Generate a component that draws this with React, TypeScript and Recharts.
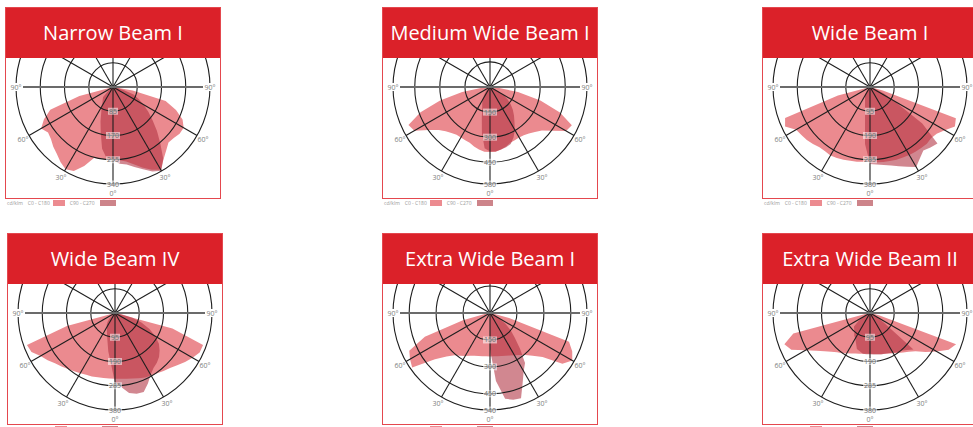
import React from "react";
import { PolarAngleAxis, PolarGrid, PolarRadiusAxis, Radar, RadarChart } from "recharts";

// gamma angle from nadir, negative = left half (C180 / C270 side)
const GAMMA = [
  -90, -85, -80, -75, -70, -65, -60, -55, -50, -45, -40, -35, -30, -25, -20, -15, -10, -5,
  0, 5, 10, 15, 20, 25, 30, 35, 40, 45, 50, 55, 60, 65, 70, 75, 80, 85, 90,
];

const ANGLE_TICKS = [0, 30, 60, 90, 120, 150, 180, 210, 240, 270, 300, 330];

// cd/klm values, left horizontal -> nadir -> right horizontal
const narrowC0 = [
  0, 0, 0, 122, 234, 267, 291, 278, 284, 296, 306, 321, 333, 325, 295, 258, 255, 255,
  255, 258, 265, 280, 300, 320, 335, 309, 290, 275, 278, 285, 286, 269, 235, 191, 70, 0, 0,
];
const narrowC90 = [
  0, 0, 0, 0, 0, 0, 0, 0, 23, 49, 56, 64, 81, 97, 128, 166, 220, 252,
  257, 270, 276, 290, 307, 327, 339, 307, 258, 218, 181, 151, 124, 99, 77, 36, 10, 0, 0,
];

const mediumC0 = [
  0, 40, 169, 309, 442, 538, 522, 448, 399, 375, 359, 349, 349, 351, 355, 369, 380, 389,
  389, 389, 380, 369, 355, 351, 349, 352, 362, 380, 405, 455, 525, 540, 445, 312, 170, 40, 0,
];
const mediumC90 = [
  0, 0, 0, 0, 0, 0, 0, 0, 0, 30, 46, 64, 90, 110, 136, 189, 279, 367,
  385, 387, 380, 373, 362, 333, 297, 255, 223, 193, 161, 128, 90, 30, 0, 0, 0, 0, 0,
];

const wideC0 = [
  0, 0, 0, 130, 354, 367, 334, 328, 323, 316, 308, 307, 310, 307, 303, 299, 297, 294,
  294, 296, 298, 300, 303, 305, 308, 310, 312, 315, 312, 319, 338, 367, 358, 52, 0, 0, 0,
];
const wideC90 = [
  0, 0, 0, 0, 0, 0, 0, 0, 0, 0, 20, 30, 39, 46, 57, 75, 112, 224,
  302, 305, 310, 318, 330, 345, 362, 341, 325, 335, 345, 250, 110, 60, 25, 0, 0, 0, 0,
];

const wide4C0 = [
  0, 0, 0, 195, 367, 361, 337, 322, 307, 296, 287, 279, 272, 267, 265, 261, 259, 258,
  258, 259, 262, 266, 272, 279, 283, 288, 296, 305, 318, 335, 351, 366, 367, 233, 0, 0, 0,
];
const wide4C90 = [
  0, 0, 0, 0, 0, 0, 0, 0, 13, 32, 45, 57, 65, 75, 91, 114, 152, 195,
  272, 292, 318, 328, 329, 305, 279, 263, 255, 244, 228, 210, 182, 149, 110, 71, 26, 0, 0,
];

const extraC0 = [
  0, 0, 20, 156, 386, 496, 514, 529, 400, 342, 307, 290, 276, 263, 254, 248, 244, 242,
  242, 242, 244, 248, 254, 261, 272, 285, 305, 336, 382, 492, 529, 505, 468, 110, 10, 0, 0,
];
const extraC90 = [
  0, 0, 0, 0, 0, 0, 0, 0, 0, 0, 0, 0, 0, 0, 0, 0, 0, 0,
  200, 380, 485, 500, 505, 430, 375, 340, 260, 195, 150, 105, 60, 25, 0, 0, 0, 0, 0,
];

const extra2C0 = [
  0, 0, 15, 311, 357, 340, 292, 257, 233, 214, 201, 192, 182, 175, 169, 165, 162, 160,
  160, 161, 163, 166, 170, 175, 182, 191, 202, 214, 233, 266, 301, 340, 359, 39, 10, 0, 0,
];
const extra2C90 = [
  0, 0, 0, 0, 0, 0, 35, 55, 82, 88, 95, 108, 115, 130, 150, 155, 162, 162,
  162, 163, 165, 168, 170, 174, 180, 188, 193, 205, 222, 71, 32, 0, 0, 0, 0, 0, 0,
];

const TITLES = [
  "Narrow Beam I",
  "Medium Wide Beam I",
  "Wide Beam I",
  "Wide Beam IV",
  "Extra Wide Beam I",
  "Extra Wide Beam II",
];
const MAX_CD = [340, 580, 380, 380, 540, 380];
const SERIES = [
  [narrowC0, narrowC90],
  [mediumC0, mediumC90],
  [wideC0, wideC90],
  [wide4C0, wide4C90],
  [extraC0, extraC90],
  [extra2C0, extra2C90],
];

const PANEL_POS = [
  [5, 7],
  [382, 7],
  [762, 7],
  [7, 233],
  [382, 233],
  [762, 233],
];

const RED = "#db2129";
const LIGHT = "#eb8a8f";
const DARK = "#b03040";
const FONT = "'Open Sans', sans-serif";

function AngleTick(props: any) {
  const { x, y, payload } = props;
  const a = payload.value;
  if (a >= 360) return <g />;
  const g = a <= 180 ? a : 360 - a;
  if (g > 90) return <g />;
  let tx = x;
  let ty = y;
  if (g === 90) tx = a === 90 ? x - 7 : x + 7;
  if (g === 0) ty = y + 2;
  const label = `${g}°`;
  const w = label.length * 4 + 2;
  return (
    <g>
      {g === 90 && <rect x={tx - w / 2} y={ty - 4} width={w} height={8} fill="#fff" />}
      <text
        x={tx}
        y={ty}
        textAnchor="middle"
        dominantBaseline="central"
        fontSize={7}
        fill="#808080"
        fontFamily={FONT}
      >
        {label}
      </text>
    </g>
  );
}

function RadiusTick(props: any) {
  const { x, y, payload } = props;
  if (!payload.value) return <g />;
  const label = String(payload.value);
  const w = label.length * 4 + 2;
  return (
    <g>
      <rect x={x - w / 2} y={y - 3.5} width={w} height={7} fill="#fff" fillOpacity={0.55} />
      <text
        x={x}
        y={y}
        textAnchor="middle"
        dominantBaseline="central"
        fontSize={7}
        fill="#6e6e6e"
        fontFamily={FONT}
      >
        {label}
      </text>
    </g>
  );
}

function Panel({ index }: { index: number }) {
  const [c0, c90] = SERIES[index];
  const data = GAMMA.map((g, i) => ({ a: g < 0 ? 360 + g : g, c0: c0[i], c90: c90[i] }));
  const [left, top] = PANEL_POS[index];
  // bottom row legends sit below the picture edge, only the swatch tops show
  const legendText = top < 100;
  return (
    <>
      <div
        style={{
          position: "absolute",
          left,
          top,
          width: 216,
          height: 192,
          boxSizing: "border-box",
          border: "1px solid #e4474e",
          overflow: "hidden",
          background: "#fff",
        }}
      >
        <RadarChart
          width={214}
          height={190}
          cx={107}
          cy={79}
          outerRadius={97}
          startAngle={-90}
          endAngle={270}
          data={data}
          margin={{ top: 0, right: 0, bottom: 0, left: 0 }}
        >
          <Radar dataKey="c0" fill={LIGHT} fillOpacity={1} stroke="none" dot={false} isAnimationActive={false} />
          <Radar dataKey="c90" fill={DARK} fillOpacity={0.58} stroke="none" dot={false} isAnimationActive={false} />
          <PolarGrid gridType="circle" stroke="#1e1e1e" strokeWidth={1.1} strokeOpacity={1} zIndex={450} />
          <PolarGrid
            gridType="circle"
            polarAngles={[0, 180]}
            polarRadius={[]}
            stroke="#6b6b6b"
            strokeWidth={2}
            zIndex={460}
          />
          <PolarAngleAxis
            dataKey="a"
            type="number"
            domain={[0, 360]}
            allowDataOverflow
            ticks={ANGLE_TICKS}
            tickCount={13}
            axisLine={false}
            tickLine={false}
            tickSize={7}
            tick={(p: any) => <AngleTick {...p} />}
          />
          <PolarRadiusAxis
            angle={-90}
            type="number"
            domain={[0, MAX_CD[index]]}
            allowDataOverflow
            tickCount={5}
            axisLine={false}
            tick={(p: any) => <RadiusTick {...p} />}
          />
        </RadarChart>
        <div
          style={{
            position: "absolute",
            left: 0,
            top: 0,
            width: "100%",
            height: 50,
            background: RED,
            color: "#fff",
            fontFamily: FONT,
            fontSize: 20,
            fontWeight: 400,
            lineHeight: "50px",
            textAlign: "center",
            zIndex: 2,
          }}
        >
          {TITLES[index]}
        </div>
      </div>
      <div
        style={{
          position: "absolute",
          left: left + 2,
          top: top + 193,
          display: "flex",
          alignItems: "center",
          fontFamily: FONT,
          fontSize: 5,
          color: "#999",
          whiteSpace: "nowrap",
        }}
      >
        <span style={{ marginRight: 5, visibility: legendText ? "visible" : "hidden" }}>cd/klm</span>
        <span style={{ marginRight: 3, visibility: legendText ? "visible" : "hidden" }}>C0 - C180</span>
        <span style={{ display: "inline-block", width: 12, height: 6, background: "#ec8b90", marginRight: 5 }} />
        <span style={{ marginRight: 5, visibility: legendText ? "visible" : "hidden" }}>C90 - C270</span>
        <span style={{ display: "inline-block", width: 16, height: 6, background: "#cd848a" }} />
      </div>
    </>
  );
}

export default function App() {
  return (
    <div
      style={{
        position: "absolute",
        left: 0,
        top: 0,
        width: 973,
        height: 427,
        overflow: "hidden",
        background: "#fff",
      }}
    >
      {TITLES.map((_, i) => (
        <Panel key={i} index={i} />
      ))}
    </div>
  );
}
